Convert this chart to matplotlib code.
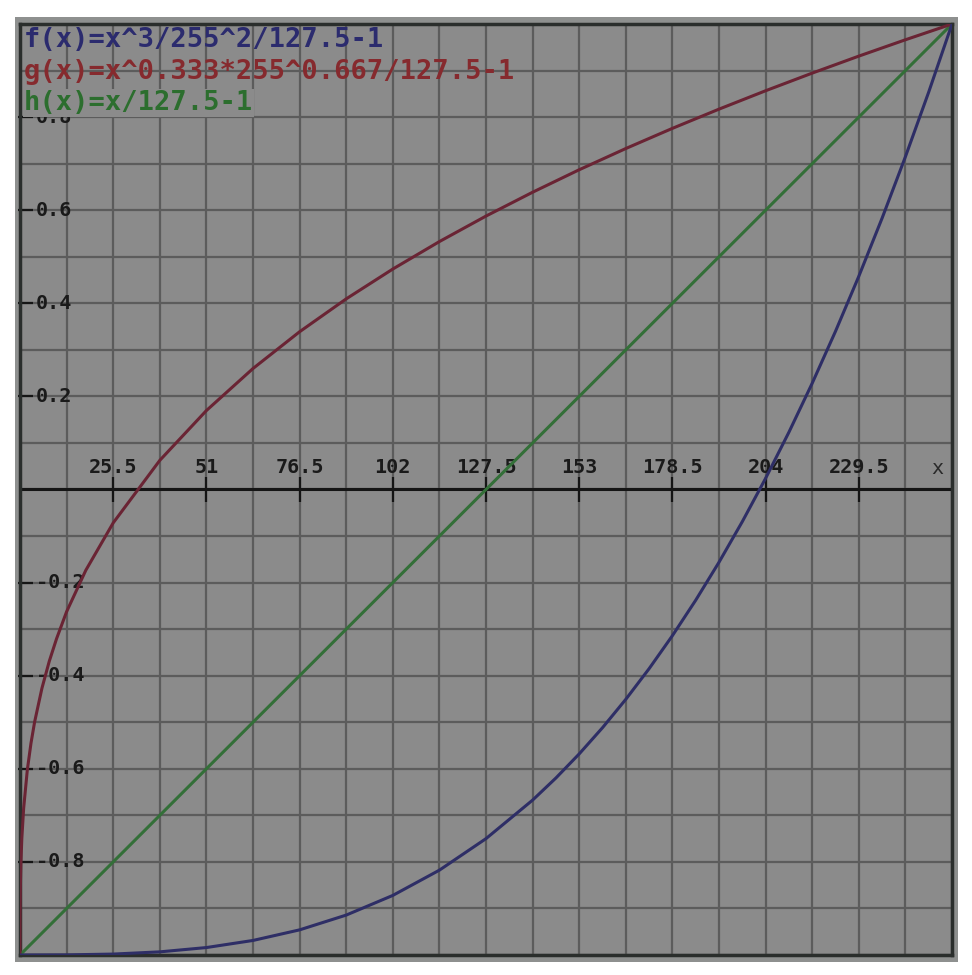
import matplotlib
matplotlib.use("Agg")
import numpy as np
import matplotlib.pyplot as plt
from matplotlib.patches import Rectangle

# sample points (x in 0..255, y in -1..1)
f_x = [0, 12.75, 25.5, 38.25, 51, 63.75, 76.5, 89.25, 102, 114.75, 127.5,
       140.25, 146.625, 153, 159.375, 165.75, 172.125, 178.5, 184.875, 191.25,
       197.625, 204, 210.375, 216.75, 223.125, 229.5, 235.875, 242.25,
       248.625, 255]
f_y = [-1.0, -0.99975, -0.998, -0.99325, -0.984, -0.96875, -0.946, -0.91425,
       -0.872, -0.81775, -0.75, -0.66725, -0.61978, -0.568, -0.51172, -0.45075,
       -0.38491, -0.314, -0.23784, -0.15625, -0.06903, 0.024, 0.12303, 0.22825,
       0.33984, 0.458, 0.58291, 0.71475, 0.85372, 1.0]

g_x = [0, 0.02, 0.1, 0.25, 0.5, 1, 2, 3, 4, 6, 8, 10, 12.75, 18, 25.5, 38.25,
       51, 63.75, 76.5, 89.25, 102, 114.75, 127.5, 140.25, 153, 165.75, 178.5,
       191.25, 204, 216.75, 229.5, 242.25, 255]
g_y = [-1.0, -0.914, -0.8536, -0.8014, -0.7496, -0.6846, -0.6026, -0.5452,
       -0.4993, -0.427, -0.3692, -0.3206, -0.2625, -0.1736, -0.0717, 0.0626,
       0.1696, 0.2599, 0.3389, 0.4095, 0.4736, 0.5326, 0.5874, 0.6386, 0.6869,
       0.7325, 0.7758, 0.8171, 0.8566, 0.8945, 0.931, 0.9661, 1.0]

h_x = [0, 127.5, 255]
h_y = [-1.0, 0.0, 1.0]

legend_texts = ["f(x)=x^3/255^2/127.5-1",
                "g(x)=x^0.333*255^0.667/127.5-1",
                "h(x)=x/127.5-1"]

x_ticks = [25.5, 51, 76.5, 102, 127.5, 153, 178.5, 204, 229.5]
x_labels = ["25.5", "51", "76.5", "102", "127.5", "153", "178.5", "204", "229.5"]
y_ticks = [0.8, 0.6, 0.4, 0.2, -0.2, -0.4, -0.6, -0.8]
y_labels = ["0.8", "0.6", "0.4", "0.2", "-0.2", "-0.4", "-0.6", "-0.8"]

BG = "#8b8b8b"
GRID = "#5c5c5c"
MONO = ["DejaVu Sans Mono"]

W, H = 972, 975
fig = plt.figure(figsize=(W / 100, H / 100), dpi=100)
fig.patch.set_facecolor("white")

# gray frame behind the plot area
fig.patches.append(Rectangle((15 / W, 1 - 962 / H), 943 / W, 945 / H,
                             transform=fig.transFigure, facecolor="#8e908f",
                             edgecolor="none", zorder=-1))

ax = fig.add_axes([20 / W, 1 - 955 / H, 932 / W, 931 / H])
ax.set_zorder(1)
ax.set_facecolor(BG)
ax.set_xlim(0, 255)
ax.set_ylim(-1, 1)

# grid every 12.75 in x and 0.1 in y
ax.set_xticks(np.arange(21) * 12.75)
ax.set_yticks(np.round(np.arange(-10, 11) * 0.1, 2))
ax.tick_params(length=0, labelbottom=False, labelleft=False)
ax.grid(True, color=GRID, lw=1.6)
ax.set_axisbelow(True)
for s in ax.spines.values():
    s.set_color("#2a2e2c")
    s.set_linewidth(2.5)

# x axis with crossing ticks
ax.axhline(0, color="#151515", lw=2.2, zorder=2)
ax.vlines(x_ticks, -0.026, 0.026, color="#151515", lw=1.6, zorder=2)
for xv, lab in zip(x_ticks, x_labels):
    ax.text(xv, 0.047, lab, ha="center", va="center", fontsize=14.5,
            family=MONO, weight="bold", color="#1a1a1a", zorder=3)
ax.text(251, 0.045, "x", ha="center", va="center", fontsize=14.5,
        family=MONO, color="#2a2a2a", zorder=3)

# y ticks on the left edge
ax.hlines(y_ticks, -0.6, 3.6, color="#151515", lw=1.6, zorder=2, clip_on=False)
for yv, lab in zip(y_ticks, y_labels):
    ax.text(4.3, yv, lab, ha="left", va="center", fontsize=14.5,
            family=MONO, weight="bold", color="#1a1a1a", zorder=3)

# curves
ax.plot(h_x, h_y, color="#336f38", lw=2.2, zorder=4)
ax.plot(g_x, g_y, color="#6a2434", lw=2.2, zorder=4)
ax.plot(f_x, f_y, color="#2e2e66", lw=2.2, zorder=4)

# legend lines at the top left; the last one hides most of the 0.8 label
leg_colors = ["#2b2b6e", "#862a2e", "#2c6e2e"]
leg_y = [0.9656, 0.8968, 0.830]
for i, (txt, col, yv) in enumerate(zip(legend_texts, leg_colors, leg_y)):
    box = dict(facecolor=BG, edgecolor="none", pad=0.5) if i == 2 else None
    ax.text(1.0, yv, txt, ha="left", va="center", fontsize=19.5,
            family=MONO, weight="bold", color=col, zorder=5, bbox=box)

fig.savefig("out.png", dpi=100, facecolor=fig.get_facecolor())
